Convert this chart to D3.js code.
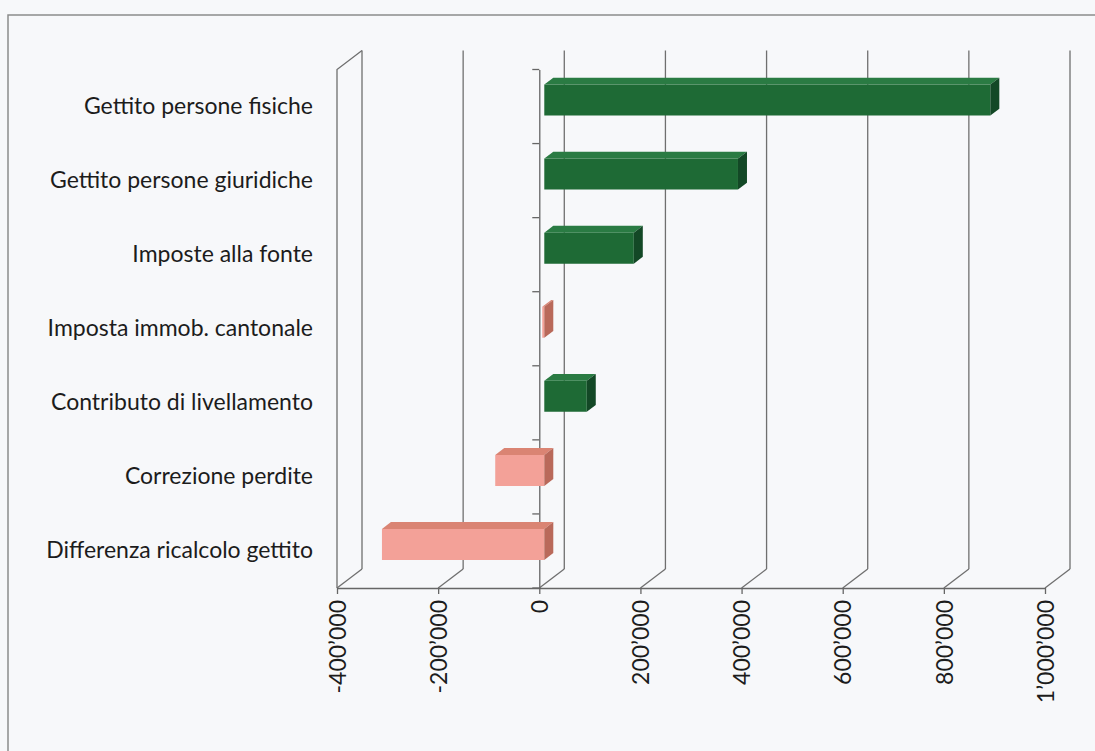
<!DOCTYPE html>
<html>
<head>
<meta charset="utf-8">
<script src="https://cdn.jsdelivr.net/npm/d3@7"></script>
<style>
  html, body { margin: 0; padding: 0; background: #f7f8fa; }
  svg { display: block; }
</style>
</head>
<body>
<svg id="chart"></svg>
<script>
// data
const categories = [
  "Gettito persone fisiche",
  "Gettito persone giuridiche",
  "Imposte alla fonte",
  "Imposta immob. cantonale",
  "Contributo di livellamento",
  "Correzione perdite",
  "Differenza ricalcolo gettito"
];
const values = [882000, 383000, 177000, -4000, 84000, -97000, -321000];
const tickValues = [-400000, -200000, 0, 200000, 400000, 600000, 800000, 1000000];

const width = 1095, height = 751;
const depth = { dx: 25, dy: -19 };        // offset front plane -> back wall
const barDepth = [0.2, 0.56];             // bar front / back as fraction of depth
const barH = 31;

const colors = {
  pos: { front: "#1e6a35", top: "#2a7b43", side: "#134826" },
  neg: { front: "#f3a198", top: "#da8473", side: "#b9695a" }
};

const fmt = d3.formatLocale({ decimal: ".", thousands: "\u2019", grouping: [3], currency: ["", ""], minus: "-" }).format(",");

const svg = d3.select("#chart").attr("width", width).attr("height", height);

const x = d3.scaleLinear().domain([-400000, 1000000]).range([337, 1045]);
const y = d3.scaleBand().domain(categories).range([69.5, 588]).padding(0);
const yTop = y.range()[0], yBot = y.range()[1];

// project a point (value, screen y on front plane, depth fraction)
const P = (v, yy, f) => [x(v) + f * depth.dx, yy + f * depth.dy];

// outer frame
svg.append("path")
  .attr("d", `M8,${height}V15H${width}`)
  .attr("fill", "none").attr("stroke", "#8c8c8c").attr("stroke-width", 1.5);

const grid = svg.append("g").attr("stroke", "#6f6f6f").attr("stroke-width", 1.3).attr("fill", "none");

// back wall gridlines + floor diagonals
tickValues.forEach(v => {
  const [bx, by0] = P(v, yTop, 1);
  const [, by1] = P(v, yBot, 1);
  grid.append("line").attr("x1", bx).attr("x2", bx).attr("y1", by0).attr("y2", by1);
  grid.append("line").attr("x1", x(v)).attr("y1", yBot).attr("x2", bx).attr("y2", by1);
});

// left side wall (front edge + top diagonal)
grid.append("path")
  .attr("d", `M${x(-400000)},${yBot}V${yTop}L${P(-400000, yTop, 1).join(",")}`);

// value axis
const xAxis = svg.append("g")
  .attr("transform", `translate(0,${yBot})`)
  .call(d3.axisBottom(x).tickValues(tickValues).tickFormat(fmt).tickSize(6).tickSizeOuter(0));
xAxis.select(".domain").attr("stroke", "#666").attr("stroke-width", 1.6);
xAxis.selectAll(".tick line").attr("stroke", "#666").attr("stroke-width", 1.3);
xAxis.selectAll(".tick text")
  .attr("transform", "translate(0,12) rotate(-90)")
  .attr("x", 0).attr("y", 0).attr("dy", "0.36em")
  .attr("text-anchor", "end")
  .attr("fill", "#1c1c1c")
  .style("font-family", "Lato, 'Open Sans', sans-serif")
  .style("font-size", "23px");

// category axis at value 0
const yAxis = svg.append("g")
  .attr("transform", `translate(${x(0)},0)`)
  .call(d3.axisLeft(y).tickSize(0).tickPadding(x(0) - 313));
yAxis.select(".domain").attr("stroke", "#666").attr("stroke-width", 1.3);
yAxis.selectAll(".tick text")
  .attr("fill", "#1c1c1c")
  .style("font-family", "Lato, 'Open Sans', sans-serif")
  .style("font-size", "23px");

// boundary ticks between categories
yAxis.selectAll(".cat-tick")
  .data(categories.map(c => y(c)).concat([yBot]))
  .enter().append("line")
  .attr("class", "cat-tick")
  .attr("x1", -7).attr("x2", 0)
  .attr("y1", d => d).attr("y2", d => d)
  .attr("stroke", "#666").attr("stroke-width", 1.3);

// 3d bars
const bars = svg.append("g").attr("class", "bars");
categories.forEach((c, i) => {
  const v = values[i];
  const col = v >= 0 ? colors.pos : colors.neg;
  const lo = Math.min(0, v), hi = Math.max(0, v);
  const cy = y(c) + y.bandwidth() / 2 - 2.7;
  const t = cy - barH / 2, b = cy + barH / 2;
  const [f0, f1] = barDepth;
  const poly = pts => pts.map(p => p.join(",")).join(" ");
  const g = bars.append("g");

  g.append("polygon")
    .attr("points", poly([P(lo, t, f0), P(hi, t, f0), P(hi, b, f0), P(lo, b, f0)]))
    .attr("fill", col.front);
  g.append("polygon")
    .attr("points", poly([P(lo, t, f0), P(hi, t, f0), P(hi, t, f1), P(lo, t, f1)]))
    .attr("fill", col.top);
  g.append("polygon")
    .attr("points", poly([P(hi, t, f0), P(hi, t, f1), P(hi, b, f1), P(hi, b, f0)]))
    .attr("fill", col.side);
});
</script>
</body>
</html>
